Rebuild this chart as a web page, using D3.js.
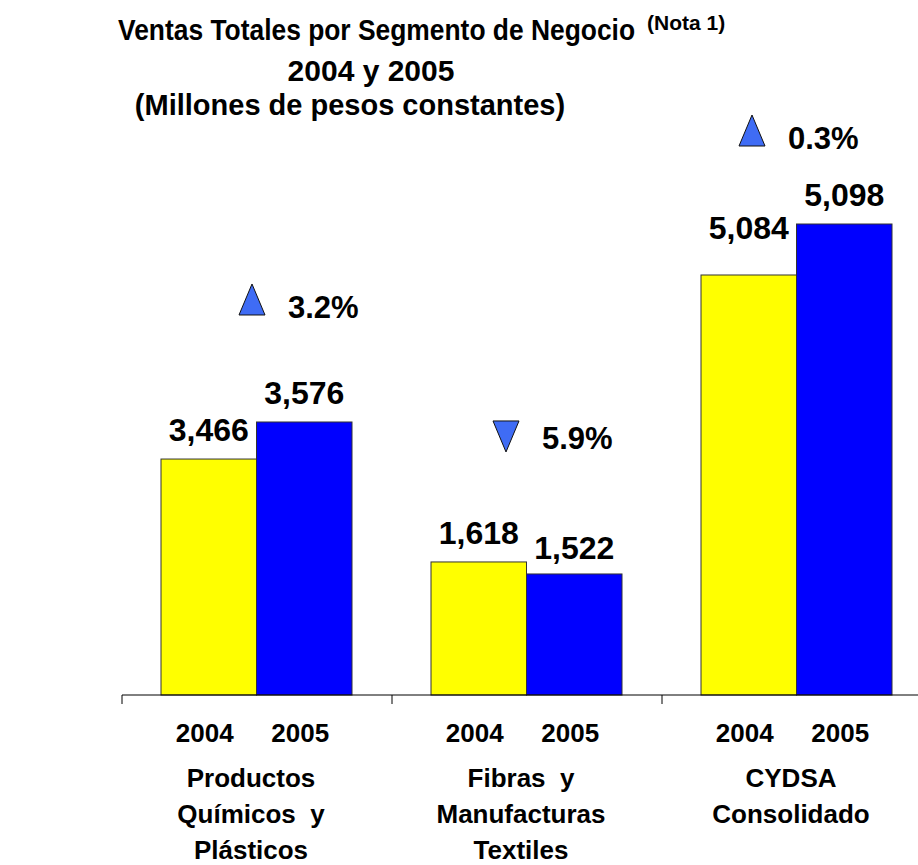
<!DOCTYPE html>
<html>
<head>
<meta charset="utf-8">
<script src="https://cdn.jsdelivr.net/npm/d3@7"></script>
<style>
  html, body { margin: 0; padding: 0; background: #ffffff; }
  svg { display: block; }
  text { font-family: "Liberation Sans", Arial, Helvetica, sans-serif; font-weight: bold; fill: #000; }
</style>
</head>
<body>
<svg id="chart" width="918" height="865"></svg>
<script>
// ---- Data ----
const categories = ["Productos Químicos y Plásticos", "Fibras y Manufacturas Textiles", "CYDSA Consolidado"];
const categoryLines = [
  ["Productos", "Químicos  y", "Plásticos"],
  ["Fibras  y", "Manufacturas", "Textiles"],
  ["CYDSA", "Consolidado"]
];
const years = ["2004", "2005"];
// Printed value labels (millones de pesos constantes)
const labels2004 = ["3,466", "1,618", "5,084"];
const labels2005 = ["3,576", "1,522", "5,098"];
// Bar heights as drawn in the picture, on the chart's own value axis
const bars2004 = [2554, 1440, 4546];
const bars2005 = [2955, 1310, 5098];
// Percent change 2004 -> 2005
const changeText = ["3.2%", "5.9%", "0.3%"];
const changeDir = ["up", "down", "up"];

const titleLine1 = "Ventas Totales por Segmento de Negocio";
const titleNote = "(Nota 1)";
const titleLine2 = "2004 y 2005";
const titleLine3 = "(Millones de pesos constantes)";

// ---- Layout ----
const svg = d3.select("#chart");
const baseY = 695;

const x0 = d3.scaleBand().domain(categories).range([122, 932]).padding(0);
const x1 = d3.scaleBand().domain(years).range([39, 230]).padding(0);
const y = d3.scaleLinear().domain([0, 5098]).range([baseY, 224]);

const colors = { "2004": "#FFFF00", "2005": "#0000FF" };

const rows = categories.map((c, i) => ({
  cat: c, i,
  vals: [
    { year: "2004", v: bars2004[i], label: labels2004[i] },
    { year: "2005", v: bars2005[i], label: labels2005[i] }
  ]
}));

// Title
const title = svg.append("g");
title.append("text")
  .attr("transform", "translate(118,40) scale(0.91,1)")
  .style("font-size", "29px")
  .text(titleLine1);
title.append("text")
  .attr("x", 647).attr("y", 30)
  .style("font-size", "21px")
  .text(titleNote);
title.append("text").attr("x", 371).attr("y", 81).attr("text-anchor", "middle").style("font-size", "30px").text(titleLine2);
title.append("text").attr("x", 350).attr("y", 115).attr("text-anchor", "middle").style("font-size", "29px").text(titleLine3);

// Bars
const groups = svg.append("g").selectAll("g").data(rows).join("g")
  .attr("transform", d => `translate(${x0(d.cat)},0)`);

groups.selectAll("rect").data(d => d.vals).join("rect")
  .attr("x", d => x1(d.year))
  .attr("width", x1.bandwidth())
  .attr("y", d => y(d.v))
  .attr("height", d => baseY - y(d.v))
  .attr("fill", d => colors[d.year])
  .attr("stroke", "#333")
  .attr("stroke-width", 1);

// Value labels
const labelNudge = { "5,084": -18, "1,522": 3 };
groups.selectAll("text.val").data(d => d.vals).join("text")
  .attr("class", "val")
  .attr("x", d => x1(d.year) + x1.bandwidth() / 2)
  .attr("y", d => y(d.v) - 18 + (labelNudge[d.label] || 0))
  .attr("text-anchor", "middle")
  .style("font-size", "32px")
  .text(d => d.label);

// Axis
const axis = svg.append("g").attr("transform", `translate(0,${baseY})`)
  .call(d3.axisBottom(x0).tickSize(0).tickFormat(""));
axis.select(".domain").attr("stroke", "#000").attr("d", "M122,0H918");
axis.selectAll(".tick").remove();
// category separator ticks
const tickXs = categories.map(c => x0(c));
axis.selectAll("line.sep").data(tickXs).join("line")
  .attr("class", "sep")
  .attr("x1", d => d).attr("x2", d => d)
  .attr("y1", 0).attr("y2", 9)
  .attr("stroke", "#000");

// Year labels
groups.selectAll("text.year").data(d => d.vals).join("text")
  .attr("class", "year")
  .attr("x", d => x1(d.year) + x1.bandwidth() / 2 - 4)
  .attr("y", 742)
  .attr("text-anchor", "middle")
  .style("font-size", "26px")
  .text(d => d.year);

// Category labels
groups.each(function(d) {
  const g = d3.select(this);
  const cx = x0.bandwidth() / 2 - 6;
  categoryLines[d.i].forEach((line, k) => {
    g.append("text")
      .attr("x", cx)
      .attr("y", 787 + k * 36)
      .attr("text-anchor", "middle")
      .attr("xml:space", "preserve")
      .style("white-space", "pre")
      .style("font-size", "26px")
      .text(line);
  });
});

// Change annotations (triangle + percent)
const annot = [
  { dx: -5, dy: -107 },
  { dx: -21, dy: -110 },
  { dx: -45, dy: -78 }
];
groups.each(function(d) {
  const g = d3.select(this);
  const a = annot[d.i];
  const topV = Math.max(bars2004[d.i], bars2005[d.i]);
  const cx = x0.bandwidth() / 2 + a.dx;
  const bottom = y(topV) + a.dy;
  const w = 26, h = 31;
  const path = changeDir[d.i] === "up"
    ? `M${cx - w / 2},${bottom}L${cx + w / 2},${bottom}L${cx},${bottom - h}Z`
    : `M${cx - w / 2},${bottom - h}L${cx + w / 2},${bottom - h}L${cx},${bottom}Z`;
  g.append("path").attr("d", path).attr("fill", "#3F6CF5").attr("stroke", "#111").attr("stroke-width", 1);
  g.append("text")
    .attr("x", cx + 36)
    .attr("y", bottom + (changeDir[d.i] === "up" ? 3 : -3))
    .style("font-size", "31px")
    .text(changeText[d.i]);
});
</script>
</body>
</html>
